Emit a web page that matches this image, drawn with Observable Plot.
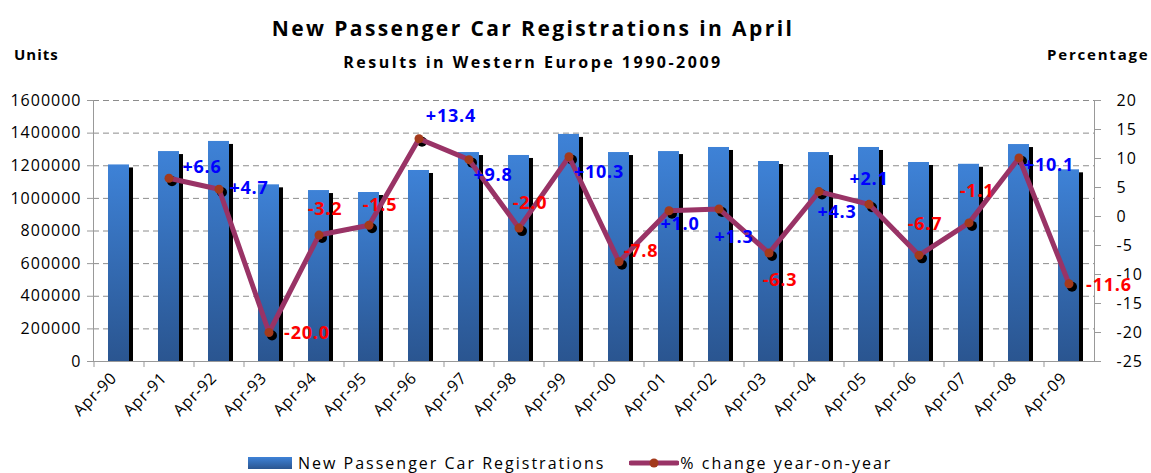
<!DOCTYPE html>
<html><head><meta charset="utf-8">
<script src="https://cdn.jsdelivr.net/npm/d3@7"></script>
<script src="https://cdn.jsdelivr.net/npm/@observablehq/plot@0.6"></script>
<style>
body{margin:0;background:#fff;font-family:"Open Sans",sans-serif;}
#wrap{position:relative;width:1151px;height:473px;overflow:hidden;background:#fff}
#chart{position:absolute;left:0;top:0}
.t{position:absolute;white-space:nowrap;color:#000;font-weight:700;line-height:1}
#title{left:0;width:1066px;text-align:center;top:18px;font-size:21px;letter-spacing:2.4px}
#subtitle{left:0;width:1066px;text-align:center;top:54px;font-size:16px;letter-spacing:2.5px}
#units{left:14px;top:47px;font-size:15px;letter-spacing:1px}
#pctlab{left:1047px;top:47px;font-size:15px;letter-spacing:1.8px}
#legend{position:absolute;top:452px;left:248px;display:flex;align-items:center;font-size:16px;letter-spacing:2px;white-space:nowrap}
#legend .sw{width:44px;height:12px;background:linear-gradient(#3e82d7,#2a5590);margin-right:6px}
#legend .ln{margin-left:24px;margin-right:1px}
svg g[aria-label="text"] text{letter-spacing:0.8px}
svg g[aria-label="y-axis tick label"] text{letter-spacing:1px}
svg g[aria-label="x-axis tick label"] text{letter-spacing:0.6px}
</style></head>
<body>
<div id="wrap">
  <div id="chart"></div>
  <div class="t" id="title">New Passenger Car Registrations in April</div>
  <div class="t" id="subtitle">Results in Western Europe 1990-2009</div>
  <div class="t" id="units">Units</div>
  <div class="t" id="pctlab">Percentage</div>
  <div id="legend">
    <div class="sw"></div><span>New Passenger Car Registrations</span>
    <svg class="ln" width="50" height="12"><line x1="2" y1="6" x2="48" y2="6" stroke="#993366" stroke-width="5" stroke-linecap="round"/><circle cx="25" cy="6" r="4.5" fill="#a33a1c"/></svg><span>% change year-on-year</span>
  </div>
</div>
<script>
// ---- data ----
const categories = ["Apr-90","Apr-91","Apr-92","Apr-93","Apr-94","Apr-95","Apr-96","Apr-97","Apr-98","Apr-99",
                    "Apr-00","Apr-01","Apr-02","Apr-03","Apr-04","Apr-05","Apr-06","Apr-07","Apr-08","Apr-09"];
const registrations = [1205000,1287000,1349000,1083000,1048000,1036000,1171000,1281000,1263000,1392000,
                       1281000,1287000,1312000,1226000,1281000,1312000,1220000,1209000,1330000,1175000];
const pctChange = [null,6.6,4.7,-20.0,-3.2,-1.5,13.4,9.8,-2.0,10.3,-7.8,1.0,1.3,-6.3,4.3,2.1,-6.7,-1.1,10.1,-11.6];
const leftTicks = [0,200000,400000,600000,800000,1000000,1200000,1400000,1600000];
const rightTicks = [-25,-20,-15,-10,-5,0,5,10,15,20];
// label placement offsets (px) for each % label, same order as pctChange
const labelOffsets = [null,[33,-11],[30,-1],[38,1],[6,-26],[11,-20],[32,-23],[24,16],[11,-25],[30,15],
                      [22,-11],[11,14],[15,28],[11,27],[18,21],[0,-25],[6,-31],[8,-32],[30,7],[40,1]];

// ---- build ----
const UMAX = 1600000, PMIN = -25, PMAX = 20;
const toU = p => (p - PMIN) / (PMAX - PMIN) * UMAX;
const fromU = u => Math.round(u / UMAX * (PMAX - PMIN) + PMIN);
const rows = categories.map((c, i) => ({cat: c, units: registrations[i], pct: pctChange[i], i}));
const pts = rows.filter(d => d.pct != null);

const defs = () => {
  const d = d3.create("svg:defs");
  const g = d.append("linearGradient").attr("id", "barGrad").attr("x1", 0).attr("y1", 0).attr("x2", 0).attr("y2", 1);
  g.append("stop").attr("offset", "0%").attr("stop-color", "#3e82d7");
  g.append("stop").attr("offset", "100%").attr("stop-color", "#2a5590");
  return d.node();
};

const labelMarks = pts.map(d => Plot.text([d], {
  x: "cat", y: r => toU(r.pct),
  text: r => (r.pct > 0 ? "+" : "") + r.pct.toFixed(1),
  fill: d.pct > 0 ? "#0000ff" : "#ff0000",
  fontWeight: 700, fontSize: 18, fontFamily: "Open Sans",
  dx: labelOffsets[d.i][0], dy: labelOffsets[d.i][1]
}));

const chart = Plot.plot({
  width: 1151, height: 473,
  marginTop: 100, marginBottom: 112, marginLeft: 93, marginRight: 57,
  style: {fontFamily: "Open Sans", fontSize: "15px", color: "#000", background: "transparent"},
  x: {domain: categories, paddingInner: 0.58, paddingOuter: 0.29, axis: null, label: null},
  y: {domain: [0, UMAX], axis: null, label: null},
  marks: [
    defs,
    Plot.gridY(leftTicks.filter(t => t > 0), {stroke: "#8c8c8c", strokeOpacity: 1, strokeDasharray: "6,4"}),
    Plot.barY(rows, {x: "cat", y: "units", fill: "#000", dx: 4, dy: 3, insetBottom: 3}),
    Plot.barY(rows, {x: "cat", y: "units", fill: "url(#barGrad)"}),
    Plot.frame({anchor: "left", stroke: "#999"}),
    Plot.frame({anchor: "right", stroke: "#999"}),
    Plot.frame({anchor: "bottom", stroke: "#999"}),
    Plot.axisY(leftTicks, {anchor: "left", label: null, tickSize: 6, tickPadding: 6, tickFormat: d3.format("d"),
      stroke: "#999", fill: "#000", fontSize: 16}),
    Plot.axisY(rightTicks.map(toU), {anchor: "right", label: null, tickSize: 6, tickPadding: 16, tickFormat: fromU,
      stroke: "#999", fill: "#000", fontSize: 16}),
    Plot.axisX({label: null, tickSize: 6, tickFormat: () => "", dx: -25, stroke: "#999"}),
    Plot.axisX({label: null, tickSize: 0, tickRotate: -45, tickPadding: 14, dx: -5, fontSize: 16, fill: "#000"}),
    Plot.dot(pts, {x: "cat", y: d => toU(d.pct), r: 5, fill: "#000", dx: 3, dy: 3}),
    Plot.line(pts, {x: "cat", y: d => toU(d.pct), stroke: "#993366", strokeWidth: 5}),
    Plot.dot(pts, {x: "cat", y: d => toU(d.pct), r: 4.5, fill: "#a33a1c"}),
    ...labelMarks
  ]
});
document.getElementById("chart").appendChild(chart);
</script>
</body></html>
